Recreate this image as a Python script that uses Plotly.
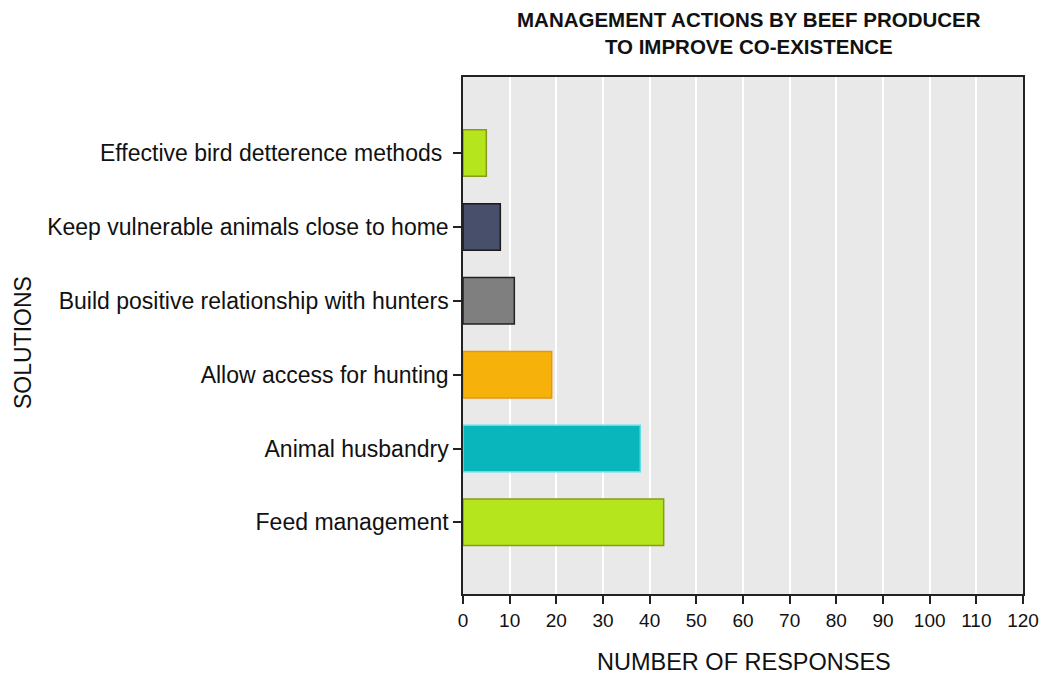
import plotly.graph_objects as go

categories = [
    "Feed management",
    "Animal husbandry",
    "Allow access for hunting",
    "Build positive relationship with hunters",
    "Keep vulnerable animals close to home",
    "Effective bird detterence methods ",
]
responses = [43, 38, 19, 11, 8, 5]
fill_colors = ["#b5e61d", "#08b6bc", "#f7b10b", "#7f7f7f", "#474f6b", "#b5e61d"]
line_colors = ["#8a9a1a", "#5fe0e6", "#e8960a", "#222222", "#1a1a1a", "#8a9a1a"]
x_ticks = list(range(0, 121, 10))

# target plot area in page pixels
L, R, T, B = 463, 1023, 77, 594
PW, PH = R - L, B - T

def px_x(x):
    return (x - L) / PW

def px_y(y):
    return (B - y) / PH

fig = go.Figure(go.Bar(
    x=responses,
    y=list(range(len(categories))),
    orientation="h",
    width=0.63,
    marker=dict(color=fill_colors, line=dict(color=line_colors, width=1.5)),
))

fig.update_layout(
    width=1032, height=667,
    margin=dict(l=455, r=17, t=69, b=81, autoexpand=False),
    paper_bgcolor="white",
    plot_bgcolor="#e9e9e9",
    font=dict(family="Liberation Sans, Arial, sans-serif", color="#111111"),
    showlegend=False,
    annotations=[
        dict(text="<b>MANAGEMENT ACTIONS BY BEEF PRODUCER<br>TO IMPROVE CO-EXISTENCE</b>",
             xref="paper", yref="paper", x=px_x(749), y=px_y(33),
             xanchor="center", yanchor="middle", showarrow=False,
             font=dict(size=20.5, color="#111111")),
        dict(text="NUMBER OF RESPONSES",
             xref="paper", yref="paper", x=px_x(744), y=px_y(662),
             xanchor="center", yanchor="middle", showarrow=False,
             font=dict(size=23.5, color="#111111")),
        dict(text="SOLUTIONS", textangle=-90,
             xref="paper", yref="paper", x=px_x(23), y=px_y(343),
             xanchor="center", yanchor="middle", showarrow=False,
             font=dict(size=23, color="#111111")),
    ],
)

fig.update_xaxes(
    range=[0, 120],
    tickvals=x_ticks,
    ticktext=[str(v) for v in x_ticks],
    ticklabeloverflow="allow",
    automargin=False,
    showgrid=True, gridcolor="white", gridwidth=1.5,
    zeroline=False,
    showline=True, linecolor="#222222", linewidth=1.5, mirror=True,
    ticks="outside", ticklen=8, tickcolor="#222222", tickwidth=1.5,
    tickfont=dict(size=19),
)

fig.update_yaxes(
    range=[-0.97, 6.03],
    tickvals=list(range(len(categories))),
    ticktext=categories,
    automargin=False,
    showgrid=False, zeroline=False,
    showline=True, linecolor="#222222", linewidth=1.5, mirror=True,
    ticks="outside", ticklen=8, tickcolor="#222222", tickwidth=1.5,
    tickfont=dict(size=23),
)

fig.write_html("out.html")
